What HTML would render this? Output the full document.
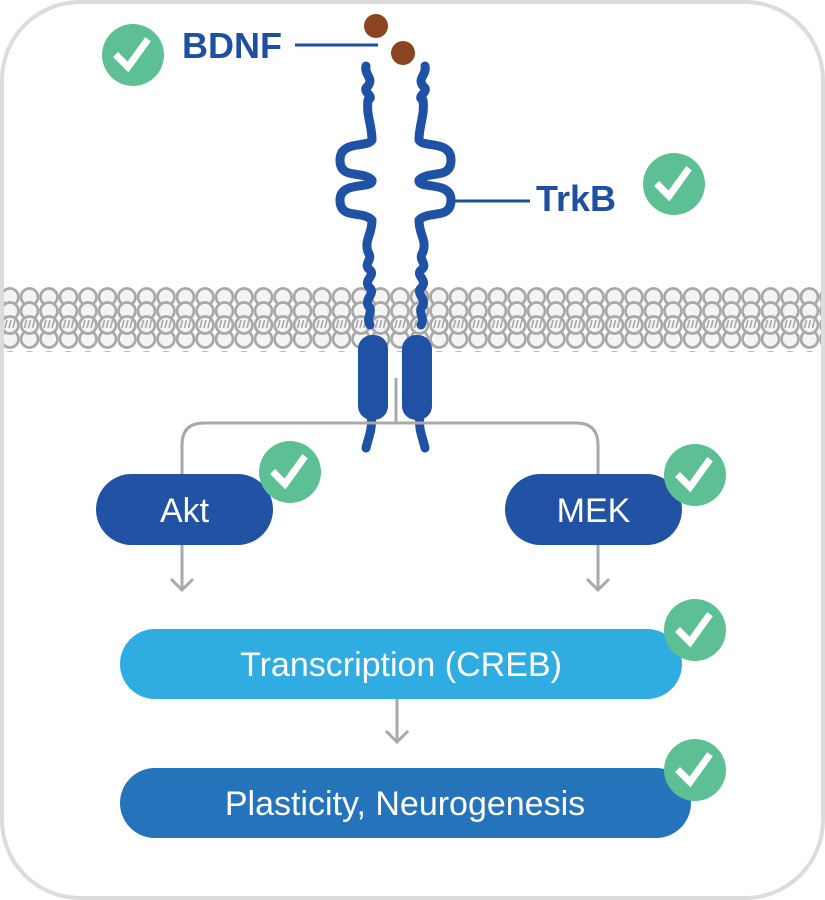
<!DOCTYPE html>
<html><head><meta charset="utf-8"><style>
html,body{margin:0;padding:0;background:#fff;}
svg{display:block}
text{font-family:"Liberation Sans",sans-serif;}
</style></head><body>
<svg width="825" height="900" viewBox="0 0 825 900" xmlns="http://www.w3.org/2000/svg">
<defs>
<pattern id="lip" x="0" y="287" width="19.5" height="64" patternUnits="userSpaceOnUse">
<g fill="#f4f4f4" stroke="#a9a9a9" stroke-width="2.8">
<circle cx="10" cy="10" r="8.5"/>
<circle cx="10" cy="24" r="8.5"/>
<circle cx="10" cy="52" r="8.5"/>
<circle cx="10" cy="38" r="8.5"/>
</g>
<path d="M7 33 l-2 8 M11 33 l-2 8 M15 33 l-2 8" stroke="#a9a9a9" stroke-width="1.6"/>
</pattern>
<g id="chk">
<circle r="31" fill="#5dc094"/>
<path d="M-15 2 L-5 12 L13 -13" fill="none" stroke="#fff" stroke-width="7" stroke-linecap="square"/>
</g>
</defs>
<rect x="2" y="2" width="821" height="896" rx="78" fill="#fff" stroke="#dcdcdc" stroke-width="4"/>
<rect x="4" y="286" width="817" height="66" fill="url(#lip)"/>

<use href="#chk" x="133" y="55"/>
<text x="182" y="58" font-size="36" font-weight="bold" fill="#1f4fa0">BDNF</text>
<line x1="295" y1="45" x2="378" y2="45" stroke="#1f4fa0" stroke-width="3"/>
<circle cx="376" cy="26" r="12" fill="#8a4520"/>
<circle cx="403" cy="53" r="12" fill="#8a4520"/>

<line x1="450" y1="201" x2="530" y2="201" stroke="#1f4fa0" stroke-width="3"/>
<text x="536" y="211" font-size="36" font-weight="bold" fill="#1f4fa0">TrkB</text>
<use href="#chk" x="674" y="184"/>

<g fill="none" stroke="#1f52a5" stroke-width="9" stroke-linecap="round" stroke-linejoin="round">
<path d="M366 66 C364 75 374 78 368 86 C360 92 376 96 368 100 C366 115 372 125 372 140 C368 148 340 140 340 160 C340 180 362 170 372 180 C374 190 340 180 340 200 C340 220 362 210 372 220 C372 235 364 240 368 252 C374 260 362 264 370 270 C376 276 362 280 370 288 C376 294 362 300 370 308 C372 314 366 318 370 325"/>
<path d="M425 66 C427 75 417 78 423 86 C431 92 415 96 423 100 C425 115 419 125 419 140 C423 148 451 140 451 160 C451 180 429 170 419 180 C417 190 451 180 451 200 C451 220 429 210 419 220 C419 235 427 240 423 252 C417 260 429 264 421 270 C415 276 429 280 421 288 C415 294 429 300 421 308 C419 314 425 318 421 325"/>
<path d="M371 415 C373 430 368 438 366 448"/>
<path d="M420 415 C418 430 423 438 425 448"/>
</g>
<rect x="358" y="335" width="30" height="85" rx="14" fill="#1f52a5"/>
<rect x="402" y="335" width="30" height="85" rx="14" fill="#1f52a5"/>

<g fill="none" stroke="#a9a9a9" stroke-width="3">
<line x1="396" y1="378" x2="396" y2="423"/>
<path d="M182 476 L182 445 Q182 423 204 423 L576 423 Q598 423 598 445 L598 476"/>
<line x1="182" y1="545" x2="182" y2="590"/>
<path d="M171 579 L182 590 L193 579"/>
<line x1="598" y1="545" x2="598" y2="590"/>
<path d="M587 579 L598 590 L609 579"/>
<line x1="397" y1="698" x2="397" y2="742"/>
<path d="M386 731 L397 742 L408 731"/>
</g>

<rect x="96" y="474" width="177" height="71" rx="35.5" fill="#2152a3"/>
<text x="184.5" y="522" font-size="34" fill="#fff" text-anchor="middle">Akt</text>
<use href="#chk" x="290" y="472"/>

<rect x="505" y="474" width="177" height="71" rx="35.5" fill="#2152a3"/>
<text x="593.5" y="522" font-size="34" fill="#fff" text-anchor="middle">MEK</text>
<use href="#chk" x="695" y="475"/>

<rect x="120" y="629" width="562" height="70" rx="35" fill="#2fade2"/>
<text x="401" y="676" font-size="34" fill="#fff" text-anchor="middle">Transcription (CREB)</text>
<use href="#chk" x="695" y="630"/>

<rect x="120" y="768" width="571" height="70" rx="35" fill="#2473bb"/>
<text x="405" y="815" font-size="34" fill="#fff" text-anchor="middle">Plasticity, Neurogenesis</text>
<use href="#chk" x="695" y="770"/>
</svg>
</body></html>
